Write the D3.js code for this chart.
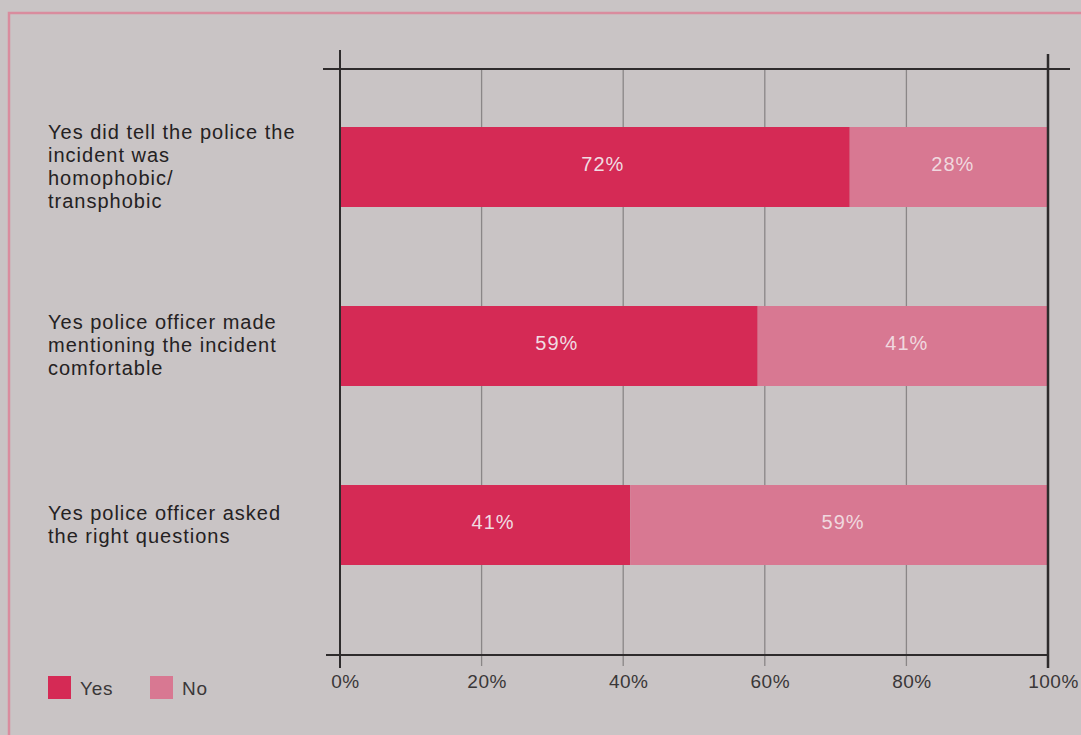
<!DOCTYPE html>
<html>
<head>
<meta charset="utf-8">
<script src="https://cdn.jsdelivr.net/npm/d3@7"></script>
<style>
  html, body { margin: 0; padding: 0; background: #c9c4c5; }
  svg { display: block; font-family: "Liberation Sans", Arial, Helvetica, sans-serif; }
</style>
</head>
<body>
<svg id="chart" width="1081" height="735"></svg>
<script>
const categories = [
  ["Yes did tell the police the", "incident was", "homophobic/", "transphobic"],
  ["Yes police officer made", "mentioning the incident", "comfortable"],
  ["Yes police officer asked", "the right questions"]
];
const yesValues = [72, 59, 41];
const noValues = [28, 41, 59];
const tickValues = [0, 20, 40, 60, 80, 100];
const seriesNames = ["Yes", "No"];
const colors = { Yes: "#d52a55", No: "#d87892" };

const svg = d3.select("#chart");
const W = 1081, H = 735;

svg.append("rect").attr("width", W).attr("height", H).attr("fill", "#c9c4c5");
// pink frame
svg.append("rect").attr("x", 9).attr("y", 13).attr("width", W + 20).attr("height", H + 20)
  .attr("fill", "none").attr("stroke", "#d98c9e").attr("stroke-width", 2.5);

const x = d3.scaleLinear().domain([0, 100]).range([340, 1048]);
const idx = categories.map((d, i) => i);
const y = d3.scaleBand().domain(idx).range([127, 565]).paddingInner(99 / 179).paddingOuter(0);

const plotTop = 69, plotBottom = 655;

// gridlines
svg.append("g").selectAll("line").data(tickValues.filter(t => t > 0 && t < 100)).join("line")
  .attr("x1", d => x(d)).attr("x2", d => x(d))
  .attr("y1", plotTop).attr("y2", 666)
  .attr("stroke", "#8a8687").attr("stroke-width", 1.3);

// bars
const rows = idx.map(i => ({ i, yes: yesValues[i], no: noValues[i] }));
const g = svg.append("g");
g.selectAll("rect.yes").data(rows).join("rect").attr("class", "yes")
  .attr("x", x(0)).attr("y", d => y(d.i))
  .attr("width", d => x(d.yes) - x(0)).attr("height", y.bandwidth())
  .attr("fill", colors.Yes);
g.selectAll("rect.no").data(rows).join("rect").attr("class", "no")
  .attr("x", d => x(d.yes)).attr("y", d => y(d.i))
  .attr("width", d => x(d.yes + d.no) - x(d.yes)).attr("height", y.bandwidth())
  .attr("fill", colors.No);

// value labels
g.selectAll("text.yl").data(rows).join("text").attr("class", "yl")
  .attr("x", d => (x(0) + x(d.yes)) / 2 + 8)
  .attr("y", d => y(d.i) + y.bandwidth() / 2 - 3)
  .attr("dy", "0.35em").attr("text-anchor", "middle")
  .attr("font-size", 20).attr("letter-spacing", 1).attr("fill", "#f0dce2")
  .text(d => d.yes + "%");
g.selectAll("text.nl").data(rows).join("text").attr("class", "nl")
  .attr("x", d => (x(d.yes) + x(d.yes + d.no)) / 2 + 4)
  .attr("y", d => y(d.i) + y.bandwidth() / 2 - 3)
  .attr("dy", "0.35em").attr("text-anchor", "middle")
  .attr("font-size", 20).attr("letter-spacing", 1).attr("fill", "#f0d8df")
  .text(d => d.no + "%");

// axes lines
const axisColor = "#2e2b2c";
svg.append("line").attr("x1", 323).attr("x2", 1070).attr("y1", plotTop).attr("y2", plotTop)
  .attr("stroke", axisColor).attr("stroke-width", 2);
svg.append("line").attr("x1", 326).attr("x2", x(100)).attr("y1", plotBottom).attr("y2", plotBottom)
  .attr("stroke", axisColor).attr("stroke-width", 2);
svg.append("line").attr("x1", x(0)).attr("x2", x(0)).attr("y1", 50).attr("y2", 668)
  .attr("stroke", axisColor).attr("stroke-width", 2);
svg.append("line").attr("x1", x(100)).attr("x2", x(100)).attr("y1", 54).attr("y2", 668)
  .attr("stroke", axisColor).attr("stroke-width", 2.5);

// tick labels via axis
const axis = d3.axisBottom(x).tickValues(tickValues).tickSize(0).tickPadding(0)
  .tickFormat(d => d + "%");
const ax = svg.append("g").attr("transform", "translate(5," + 688 + ")").call(axis);
ax.select(".domain").remove();
ax.selectAll("text").attr("font-size", 19).attr("letter-spacing", 0.5).attr("fill", "#3a3738")
  .attr("font-family", "'Liberation Sans', Arial, sans-serif").attr("dy", 0).attr("y", 0);

// category labels
const lineH = 23;
const cl = svg.append("g");
categories.forEach((lines, i) => {
  const cy = y(i) + y.bandwidth() / 2;
  const first = cy - (lines.length - 1) * lineH / 2 + 6;
  const t = cl.append("text").attr("x", 48).attr("font-size", 20)
    .attr("letter-spacing", 1).attr("fill", "#242122");
  lines.forEach((ln, k) => {
    t.append("tspan").attr("x", 48).attr("y", first + k * lineH).text(ln);
  });
});

// legend
const legendX = [48, 150];
const lg = svg.append("g");
seriesNames.forEach((s, i) => {
  lg.append("rect").attr("x", legendX[i]).attr("y", 676).attr("width", 23).attr("height", 23)
    .attr("fill", colors[s]);
  lg.append("text").attr("x", legendX[i] + 32).attr("y", 695).attr("font-size", 19)
    .attr("letter-spacing", 0.8).attr("fill", "#3a3738").text(s);
});
</script>
</body>
</html>
